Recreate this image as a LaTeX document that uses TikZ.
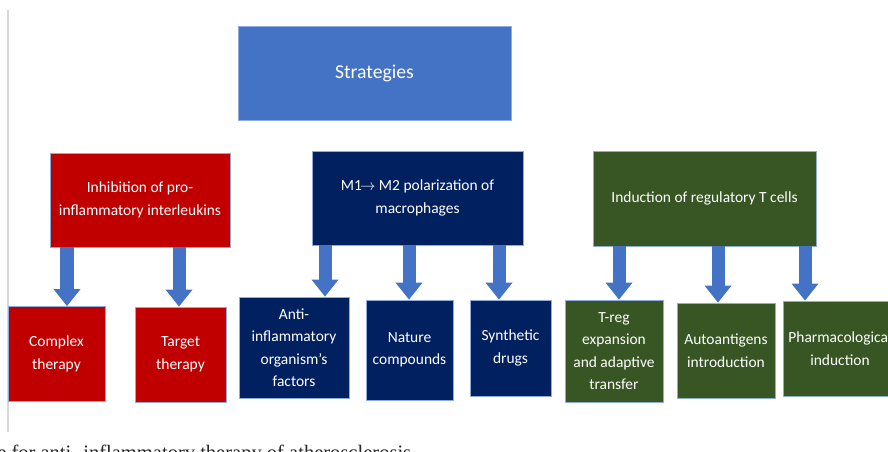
\documentclass[tikz,border=0pt]{standalone}
\usepackage{fontspec}
\setmainfont{Carlito}
\newfontfamily\capfont{Liberation Serif}
\usetikzlibrary{arrows.meta}

\definecolor{stratblue}{RGB}{68,114,196}
\definecolor{inhred}{RGB}{192,0,0}
\definecolor{polnavy}{RGB}{0,32,96}
\definecolor{indgreen}{RGB}{55,86,35}
\definecolor{boxedge}{RGB}{143,170,220}
\definecolor{pagerule}{RGB}{215,215,215}

\tikzset{
  box/.style={rectangle, draw=boxedge, line width=0.6pt, text=white, align=center,
    inner sep=1pt, font=\fontsize{11}{16}\selectfont},
  redbox/.style={box, fill=inhred},
  navybox/.style={box, fill=polnavy},
  greenbox/.style={box, fill=indgreen},
  blockarrow/.style={draw=stratblue, line width=0.325cm,
    -{Triangle[width=0.675cm, length=0.425cm, line width=0pt]}},
}

\begin{document}
\begin{tikzpicture}[x=0.025cm, y=-0.025cm]

    \useasboundingbox (0,0) rectangle (888,452);
    \clip (0,0) rectangle (888,452);

    \draw[pagerule, line width=0.04cm] (8,10) -- (8,432);

    \node[box, fill=stratblue, minimum width=6.825cm, minimum height=2.35cm,
      font=\fontsize{14}{17}\selectfont] (strat) at (374.5,73) {Strategies};

    \node[redbox, minimum width=4.5cm, minimum height=2.35cm] (inh) at (140,200)
      {Inhibition of pro-\\inflammatory interleukins};
    \node[navybox, minimum width=5.275cm, minimum height=2.35cm] (pol) at (417.5,198)
      {M1\kern-0.12em$\rightarrow$ M2 polarization of\\macrophages};
    \node[greenbox, minimum width=5.575cm, minimum height=2.375cm] (ind) at (704.5,198.5)
      {Induction of regulatory T cells};

    \node[redbox, minimum width=2.425cm, minimum height=2.375cm] (cx) at (56.5,354) {Complex\\therapy};
    \node[redbox, minimum width=2.275cm, minimum height=2.375cm] (tg) at (180.5,354.5) {Target\\therapy};

    \node[navybox, minimum width=2.75cm, minimum height=2.525cm] (aif) at (294,347.5)
      {Anti-\\inflammatory\\organism’s\\factors};
    \node[navybox, minimum width=2.175cm, minimum height=2.5cm] (nat) at (409.5,350) {Nature\\compounds};
    \node[navybox, minimum width=2.025cm, minimum height=2.4cm] (syn) at (510.5,348) {Synthetic\\drugs};

    \node[greenbox, minimum width=2.45cm, minimum height=2.55cm] (treg) at (614,351)
      {T-reg\\expansion\\and adaptive\\transfer};
    \node[greenbox, minimum width=2.45cm, minimum height=2.375cm] (aut) at (726,350.5)
      {Autoantigens\\introduction};
    \node[greenbox, minimum width=2.85cm, minimum height=2.375cm] (pha) at (840,348.5)
      {Pharmacological\\induction};

    % arrows down to the single strategies
    \foreach \x/\p/\c in {67/inh/cx, 179/inh/tg, 325/pol/aif, 409/pol/nat, 499/pol/syn,
                          619/ind/treg, 718/ind/aut, 805/ind/pha}{
      \path (\x,0) coordinate (ax);
      \draw[blockarrow] (ax |- \p.south) -- (ax |- \c.north);
    }

    \node[anchor=base west, inner sep=0pt, text=black!85,
      font=\capfont\fontsize{14.6}{17}\selectfont] (cap) at (-3,459)
      {e for anti- inflammatory therapy of atherosclerosis};

\end{tikzpicture}
\end{document}
